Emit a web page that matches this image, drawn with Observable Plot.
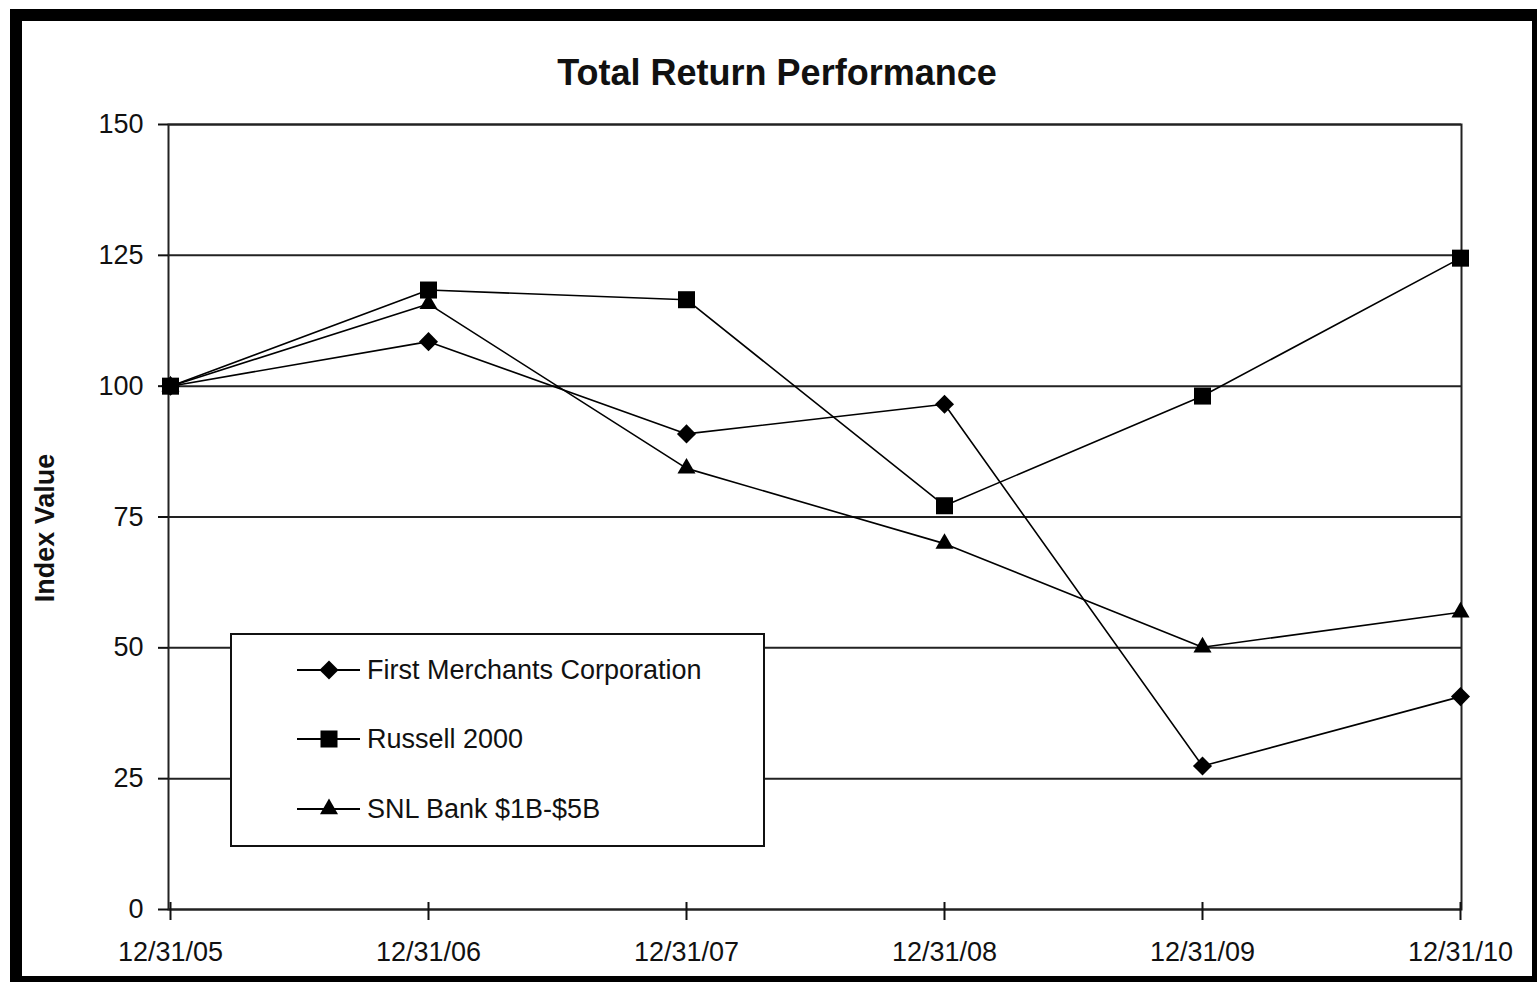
<!DOCTYPE html>
<html><head><meta charset="utf-8">
<script src="https://cdn.jsdelivr.net/npm/d3@7"></script>
<script src="https://cdn.jsdelivr.net/npm/@observablehq/plot@0.6"></script>
<style>
html,body{margin:0;padding:0;background:#fff;overflow:hidden;width:1537px;height:982px;}
#wrap{position:relative;width:1537px;height:982px;overflow:hidden;font-family:"Liberation Sans",Arial,sans-serif;color:#111;}
#border{position:absolute;left:10px;top:9px;width:1510px;height:955px;border:12px solid #000;}
#title{position:absolute;left:0;width:1554px;top:55px;text-align:center;font-weight:bold;font-size:36px;line-height:36px;white-space:nowrap;}
#ylabel{position:absolute;left:45px;top:528px;transform:translate(-50%,-50%) rotate(-90deg);font-weight:bold;font-size:27px;line-height:27px;white-space:nowrap;}
#chart{position:absolute;left:0;top:0;}
#legend{position:absolute;left:230px;top:633px;width:531px;height:210px;border:2px solid #111;background:#fff;}
.entry{position:absolute;left:0;height:30px;width:520px;}
.entry svg{position:absolute;left:63px;top:0;}
.entry span{position:absolute;left:135px;top:0;line-height:30px;font-size:27px;white-space:nowrap;}
</style>
</head><body>
<div id="wrap">
  <div id="border"></div>
  <div id="chart"></div>
  <div id="title">Total Return Performance</div>
  <div id="ylabel">Index Value</div>
  <div id="legend"></div>
</div>
<script>
const dates = ["12/31/05","12/31/06","12/31/07","12/31/08","12/31/09","12/31/10"];
const firstMerchants = [100, 108.51, 90.88, 96.53, 27.41, 40.68];
const russell2000 = [100, 118.37, 116.52, 77.15, 98.11, 124.46];
const snlBank = [100, 115.72, 84.29, 69.91, 50.11, 56.81];
const seriesNames = ["First Merchants Corporation", "Russell 2000", "SNL Bank $1B-$5B"];
const seriesSymbols = ["diamond2", "square", "triangle"];
const seriesRadius = [8.6, 9.6, 6.7];
const yTicks = [0, 25, 50, 75, 100, 125, 150];

const seriesValues = [firstMerchants, russell2000, snlBank];
const rows = [];
seriesNames.forEach((name, i) => {
  dates.forEach((d, j) => rows.push({series: name, date: d, value: seriesValues[i][j]}));
});

const dotMarks = seriesNames.map((name, i) =>
  Plot.dot(rows.filter(r => r.series === name), {
    x: "date", y: "value", symbol: seriesSymbols[i], r: seriesRadius[i], fill: "#000", stroke: "none"
  })
);

const chart = Plot.plot({
  width: 1537,
  height: 982,
  marginLeft: 168,
  marginRight: 76,
  marginTop: 124,
  marginBottom: 73,
  style: {background: "transparent", fontFamily: "Liberation Sans, Arial, sans-serif", color: "#111"},
  x: {type: "point", domain: dates, padding: 0},
  y: {domain: [0, 150]},
  marks: [
    Plot.gridY(yTicks, {stroke: "#222", strokeOpacity: 1, strokeWidth: 2}),
    Plot.frame({stroke: "#222", strokeWidth: 2}),
    Plot.axisY(yTicks, {tickSize: 10, tickPadding: 15, fontSize: 27, label: null, strokeWidth: 2}),
    Plot.axisX(dates, {tickSize: 11, tickPadding: 21, fontSize: 27, label: null, strokeWidth: 2}),
    Plot.axisX(dates, {tickSize: -7, text: null, label: null, strokeWidth: 2}),
    Plot.line(rows, {x: "date", y: "value", z: "series", stroke: "#000", strokeWidth: 1.6}),
    ...dotMarks
  ]
});
document.getElementById("chart").appendChild(chart);

// Legend
const legend = document.getElementById("legend");
const entryTops = [20, 89, 159];
const symbolTypes = {diamond2: d3.symbolDiamond2, square: d3.symbolSquare, triangle: d3.symbolTriangle};
seriesNames.forEach((name, i) => {
  const div = document.createElement("div");
  div.className = "entry";
  div.style.top = entryTops[i] + "px";
  const r = seriesRadius[i];
  const path = d3.symbol(symbolTypes[seriesSymbols[i]], Math.PI * r * r)();
  div.innerHTML = `<svg width="66" height="30" viewBox="0 0 66 30">
      <line x1="2" x2="65" y1="15" y2="15" stroke="#000" stroke-width="1.8"/>
      <path transform="translate(34,15)" d="${path}" fill="#000"/>
    </svg><span></span>`;
  div.querySelector("span").textContent = name;
  legend.appendChild(div);
});
</script>
</body></html>
